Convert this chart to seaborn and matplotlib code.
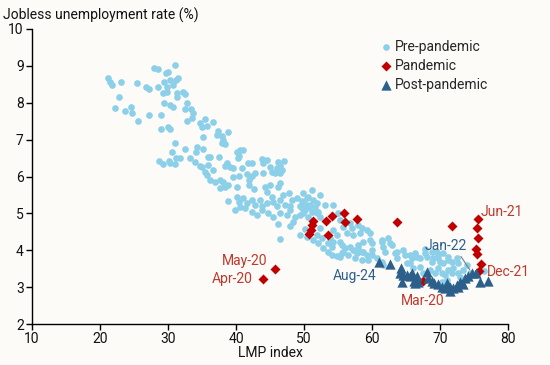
import seaborn as sns
import pandas as pd
import matplotlib.pyplot as plt

# LMP index vs jobless unemployment rate, monthly points
pre_lmp = [
    21.2, 21.5, 21.8, 23.1, 25.4, 27.9, 28.5, 29.7, 30.0, 31.0, 29.4, 30.3, 31.2, 31.5,
    29.9, 30.7, 26.8, 27.2, 28.5, 29.3, 29.9, 31.3, 32.2, 32.5, 31.3, 22.8, 22.2, 23.7,
    24.6, 24.7, 25.6, 27.2, 29.0, 29.4, 30.3, 30.7, 32.8, 32.5, 33.4, 33.7, 32.8, 33.5,
    29.0, 30.0, 30.3, 34.7, 35.4, 35.0, 35.2, 31.0, 30.6, 32.5, 34.3, 34.1, 35.2, 28.7,
    29.3, 30.2, 30.3, 31.2, 31.8, 31.0, 33.2, 34.0, 34.7, 35.9, 35.9,
    36.6, 35.7, 37.4, 38.8, 37.2, 38.0, 38.1, 38.4, 38.0, 40.1, 40.6, 41.0, 40.4, 40.3,
    36.2, 37.5, 42.4, 41.8, 43.8, 44.0, 44.6, 46.2, 47.1, 46.5, 46.0, 45.0, 45.3, 45.7,
    46.5, 46.8, 44.0, 42.8, 42.4, 41.6, 40.9, 39.6, 39.1, 38.7, 38.4, 39.6, 40.4, 41.9,
    36.6, 35.0, 35.4, 35.7, 36.2, 36.9, 37.7, 38.1, 37.7, 38.4, 38.8, 40.1, 41.9, 42.6,
    44.3, 45.0, 44.6, 46.2, 46.5, 45.3, 46.9, 47.8, 48.2, 49.0, 49.7, 50.4, 49.4, 50.1,
    50.7, 38.8, 40.1, 40.4, 41.0, 41.6, 42.4, 42.8, 43.5, 43.8, 44.6, 45.4, 46.0, 46.5,
    47.2, 47.9, 41.3,
    49.9, 50.6, 51.3, 50.9, 51.6, 50.1, 51.2, 51.9, 49.4, 50.6, 47.9, 47.5, 48.7, 46.5,
    45.4, 44.7, 43.8, 43.1, 42.4, 40.6, 39.9, 51.2, 52.4,
    49.9, 51.9, 53.1, 54.3, 52.1, 52.4, 55.0, 55.3, 56.8, 55.7, 57.1, 58.0, 58.5, 59.3,
    59.7, 58.2, 57.2, 56.3, 54.3, 54.9, 52.4, 51.9, 51.3, 52.1, 52.8, 54.1, 54.3, 55.3,
    55.6, 56.0, 56.8, 57.2, 58.0, 58.5, 59.3, 60.0, 61.5, 62.4, 62.6, 61.6, 63.7, 64.6,
    63.7, 65.6, 65.6, 66.6, 53.5, 54.1, 55.3, 55.7, 56.5, 57.5, 58.5, 59.4, 60.7, 61.5,
    61.6, 49.7,
    46.2, 47.9, 48.4, 50.1, 49.4, 50.4, 52.6, 53.8, 53.5, 57.8, 58.7, 60.0, 58.0, 58.7,
    59.7, 61.5, 55.6, 54.9, 46.5,
    60.0, 62.9, 61.9, 63.4, 64.9, 66.3, 65.9, 65.1, 67.1, 67.8, 69.6, 68.8, 69.7, 70.4,
    69.7, 71.2, 71.9, 71.8, 70.3, 69.3, 68.5, 67.5, 67.1, 66.0, 72.6, 73.4, 72.9, 74.4,
    71.0, 70.3,
    67.8, 68.8, 68.1, 69.0, 69.7, 70.4, 71.2, 70.0, 71.8, 72.5, 71.2, 74.0, 72.6, 70.7,
    76.5,
]
pre_rate = [
    8.67, 8.56, 8.48, 8.56, 8.53, 8.94, 8.91, 8.80, 8.83, 9.02, 8.56, 8.61, 8.61, 8.67,
    8.42, 8.48, 8.42, 8.37, 8.42, 8.26, 8.29, 8.26, 8.29, 8.23, 8.15, 8.15, 7.85, 7.77,
    7.88, 7.72, 7.50, 7.66, 7.66, 7.99, 7.94, 7.88, 7.99, 7.83, 7.83, 7.72, 7.50, 7.58,
    7.28, 7.34, 7.28, 7.45, 7.56, 7.34, 7.07, 6.91, 6.66, 6.74, 6.80, 6.66, 6.74, 6.42,
    6.34, 6.42, 6.36, 6.50, 6.50, 6.34, 6.50, 6.39, 6.28, 6.53, 6.31,
    7.47, 7.37, 7.23, 7.20, 7.12, 7.09, 6.99, 6.88, 6.91, 6.66, 6.72, 6.72, 6.55, 6.50,
    6.53, 6.53, 6.36, 6.36, 6.47, 6.36, 6.44, 6.39, 6.42, 6.28, 6.23, 6.25, 6.12, 6.09,
    6.09, 6.17, 6.09, 6.09, 6.01, 6.07, 6.23, 6.23, 6.25, 6.36, 6.28, 5.98, 6.01, 5.90,
    6.17, 6.25, 6.12, 6.04, 5.90, 5.85, 5.90, 5.85, 5.69, 5.71, 5.77, 5.71, 5.77, 5.66,
    5.71, 5.77, 5.58, 5.71, 5.82, 5.44, 5.50, 5.55, 5.36, 5.41, 5.33, 5.41, 5.20, 5.25,
    5.17, 5.33, 5.44, 5.31, 5.41, 5.28, 5.36, 5.22, 5.36, 5.20, 5.28, 5.31, 5.20, 5.36,
    5.22, 5.20, 5.14,
    5.55, 5.44, 5.36, 5.22, 5.17, 5.09, 5.04, 5.01, 4.95, 4.90, 5.09, 4.95, 4.90, 5.01,
    4.90, 5.01, 5.09, 4.95, 5.04, 5.17, 5.09, 5.63, 5.50,
    5.01, 5.28, 5.22, 5.22, 5.04, 4.90, 5.01, 4.82, 4.74, 4.63, 4.60, 4.68, 4.60, 4.55,
    4.47, 4.47, 4.41, 4.47, 4.55, 4.41, 4.60, 4.41, 4.28, 4.20, 4.06, 4.09, 4.22, 4.22,
    4.14, 4.06, 4.09, 4.01, 4.06, 3.95, 3.87, 4.01, 4.22, 4.33, 4.20, 4.09, 3.95, 4.01,
    3.79, 3.87, 3.65, 3.82, 3.95, 3.87, 3.82, 3.95, 3.87, 3.79, 3.73, 3.73, 3.79, 3.68,
    3.60, 5.14,
    4.71, 4.66, 4.76, 4.57, 4.41, 4.36, 4.33, 4.33, 4.20, 3.92, 3.95, 3.87, 4.14, 4.22,
    4.28, 4.28, 3.92, 3.84, 4.30,
    4.20, 4.14, 3.95, 3.92, 3.87, 3.92, 3.79, 3.65, 3.79, 3.92, 3.95, 3.68, 3.79, 3.65,
    3.52, 3.73, 3.52, 3.38, 3.38, 3.38, 3.46, 3.38, 3.54, 3.52, 3.65, 3.46, 3.27, 3.38,
    3.19, 3.14,
    4.03, 3.95, 3.82, 3.79, 3.87, 3.92, 3.82, 3.68, 3.68, 3.79, 3.46, 3.60, 3.38, 3.33,
    3.44,
]

# Mar-20 ... Dec-21
pan_lmp = [67.5, 44.0, 45.7, 51.3, 51.2, 51.0, 50.7, 53.2, 54.1, 55.9, 56.0,
           57.8, 53.5, 63.7, 71.8, 75.6, 75.5, 75.6, 75.3, 75.5, 76.1, 75.7]
pan_rate = [3.17, 3.22, 3.49, 4.79, 4.68, 4.55, 4.44, 4.79, 4.93, 5.01, 4.76,
            4.85, 4.41, 4.76, 4.66, 4.85, 4.60, 4.33, 4.03, 3.90, 3.63, 3.44]

# Jan-22 ... Aug-24
post_lmp = [74.7, 75.3, 75.9, 77.1, 74.1, 73.7, 72.9, 72.5, 73.4, 72.6, 71.9, 71.5,
            71.5, 71.0, 70.7, 70.3, 69.7, 69.1, 68.8, 68.2, 68.1, 66.8, 66.2, 66.6,
            66.3, 65.9, 65.6, 65.1, 64.6, 64.4, 64.1, 64.3, 62.6, 61.0]
post_rate = [3.38, 3.38, 3.14, 3.17, 3.30, 3.25, 3.14, 3.06, 3.08, 3.00, 2.98, 3.00,
             2.89, 3.11, 2.98, 3.00, 3.08, 3.11, 3.17, 3.25, 3.41, 3.14, 3.17, 3.30,
             3.11, 3.38, 3.30, 3.33, 3.33, 3.14, 3.38, 3.52, 3.63, 3.68]

periods = ['Pre-pandemic', 'Pandemic', 'Post-pandemic']
colors = {'Pre-pandemic': '#8ccfe8', 'Pandemic': '#c00000', 'Post-pandemic': '#2d5f8b'}
markers = {'Pre-pandemic': 'o', 'Pandemic': 'D', 'Post-pandemic': '^'}
sizes = {'Pre-pandemic': 23, 'Pandemic': 26, 'Post-pandemic': 55}

df = pd.concat([
    pd.DataFrame({'lmp': pre_lmp, 'rate': pre_rate, 'period': periods[0]}),
    pd.DataFrame({'lmp': pan_lmp, 'rate': pan_rate, 'period': periods[1]}),
    pd.DataFrame({'lmp': post_lmp, 'rate': post_rate, 'period': periods[2]}),
])

sns.set_style('white')
plt.rcParams['font.family'] = ['Roboto', 'DejaVu Sans']
plt.rcParams['font.size'] = 10
bg = '#fcfbf8'
red_txt = '#c0392b'
blue_txt = '#2d5f8b'

fig, ax = plt.subplots(figsize=(5.5, 3.65), dpi=100)
fig.patch.set_facecolor(bg)
ax.set_facecolor(bg)
fig.subplots_adjust(left=32 / 550, right=508 / 550, bottom=1 - 324 / 365, top=1 - 29 / 365)

for p in periods:
    sns.scatterplot(data=df[df['period'] == p], x='lmp', y='rate', color=colors[p],
                    marker=markers[p], s=sizes[p], linewidth=0, label=p, ax=ax)

ax.set_xlim(10, 80)
ax.set_ylim(2, 10)
ax.set_xticks(range(10, 81, 10))
ax.set_yticks(range(2, 11))
ax.set_xlabel('LMP index', fontsize=10, color='#111111', labelpad=0)
ax.set_ylabel('')
ax.tick_params(direction='out', length=4, width=1, color='black', labelsize=10,
               labelcolor='#111111', pad=2, left=True, bottom=True)
for s in ['top', 'right']:
    ax.spines[s].set_visible(False)
for s in ['left', 'bottom']:
    ax.spines[s].set_color('black')
    ax.spines[s].set_linewidth(1)

fig.text(3 / 550, 1 - 15 / 365, 'Jobless unemployment rate (%)', fontsize=10,
         color='#111111', va='center', ha='left')

leg = ax.legend(loc='upper left', bbox_to_anchor=(0.73, 0.963), frameon=False,
                handletextpad=0.1, labelspacing=0.35, borderaxespad=0, borderpad=0,
                fontsize=10, handlelength=1)

# point labels
ax.text(76.0, pan_rate[15] + 0.2, 'Jun-21', color=red_txt, ha='left', va='center')
ax.text(76.9, pan_rate[21] - 0.03, 'Dec-21', color=red_txt, ha='left', va='center')
ax.text(pan_lmp[0], pan_rate[0] - 0.55, 'Mar-20', color=red_txt, ha='center', va='center')
ax.text(44.6, pan_rate[2] + 0.22, 'May-20', color=red_txt, ha='right', va='center')
ax.text(42.5, pan_rate[1], 'Apr-20', color=red_txt, ha='right', va='center')
ax.text(57.4, post_rate[-1] - 0.38, 'Aug-24', color=blue_txt, ha='center', va='center')
ax.annotate('Jan-22', xy=(post_lmp[0], post_rate[0]), xytext=(70.9, 4.11),
            color=blue_txt, ha='center', va='center',
            arrowprops=dict(arrowstyle='-', color='#6f7f90', lw=0.8,
                            shrinkA=0, shrinkB=3, relpos=(0.8, 0.0)))

fig.savefig('out.png', dpi=100, facecolor=bg)
